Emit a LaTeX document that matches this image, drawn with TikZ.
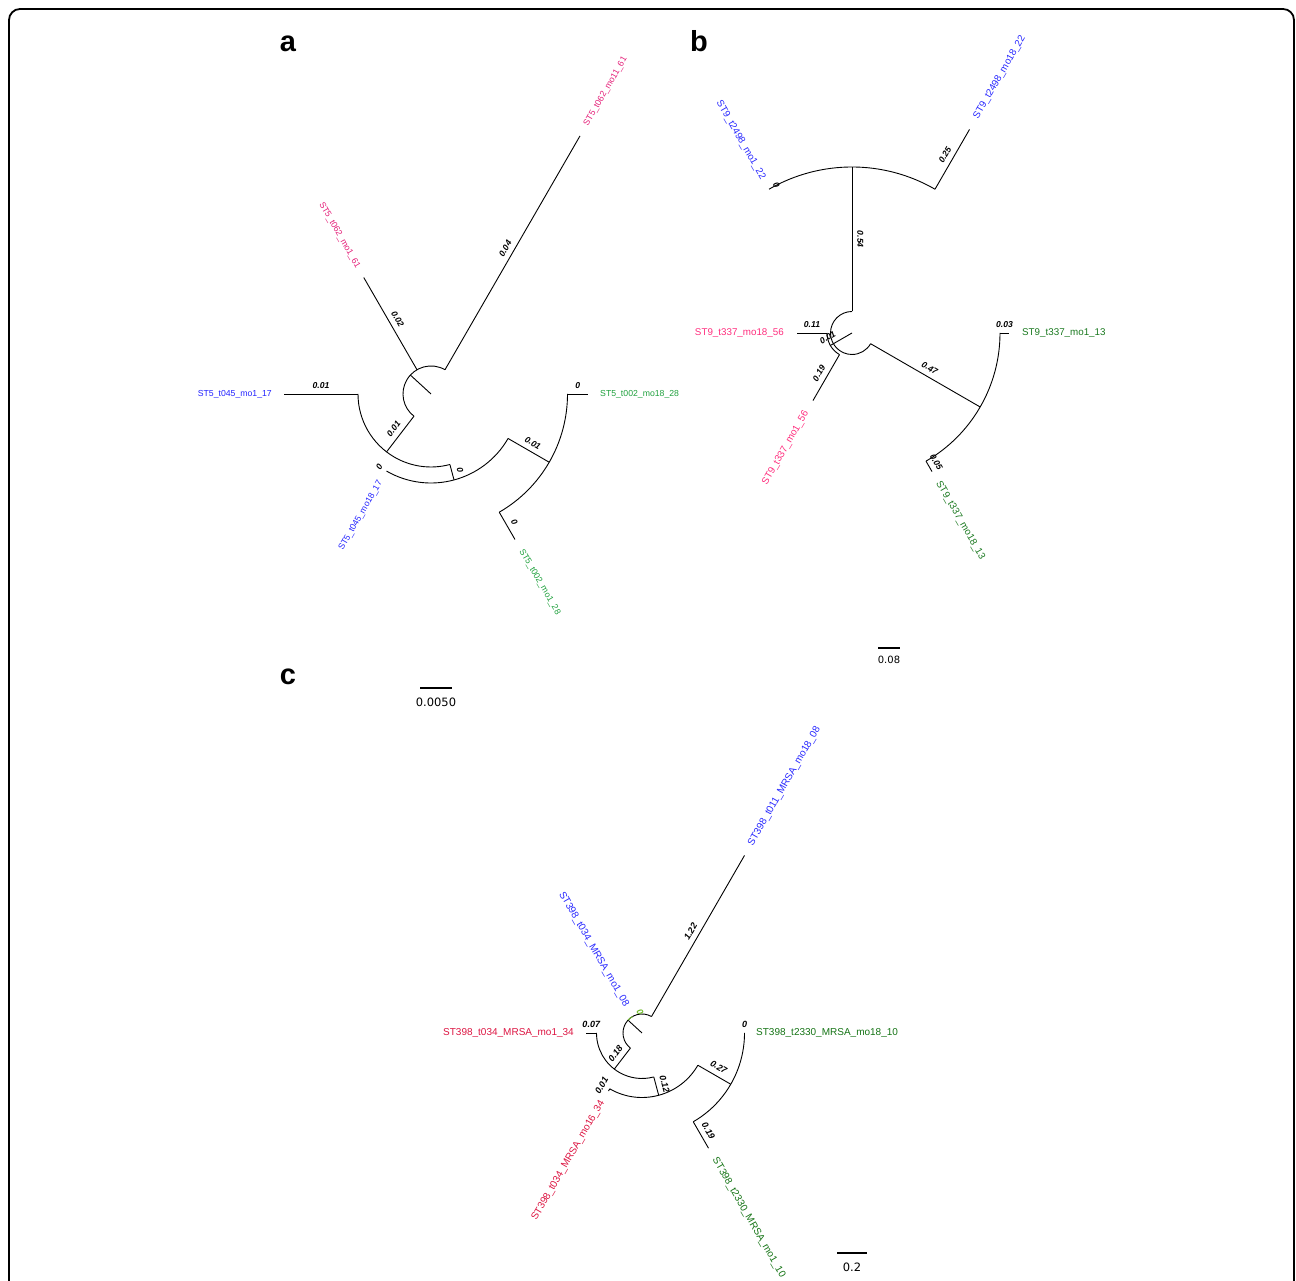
\documentclass[tikz,border=0pt]{standalone}
\usepackage{fontspec}
\setmainfont{Liberation Sans}
\newfontfamily\scalebarfont{DejaVu Sans}

\definecolor{aPink}{RGB}{228,30,120}
\definecolor{aBlue}{RGB}{35,35,255}
\definecolor{aGreen}{RGB}{30,160,60}
\definecolor{bBlue}{RGB}{40,40,255}
\definecolor{bPink}{RGB}{255,45,125}
\definecolor{bGreen}{RGB}{25,120,30}
\definecolor{cBlue}{RGB}{40,40,255}
\definecolor{cRed}{RGB}{220,20,65}
\definecolor{cGreen}{RGB}{20,115,20}
\definecolor{cLime}{RGB}{110,185,40}

\tikzset{
  branch/.style={line width=0.9pt, black},
  leafa/.style={font=\fontsize{8.7}{10}\selectfont, inner sep=0pt},
  leafb/.style={font=\fontsize{9.8}{11}\selectfont, inner sep=0pt},
  leafc/.style={font=\fontsize{10}{12}\selectfont, inner sep=0pt},
  lenlab/.style={font=\fontsize{8.6}{10}\selectfont\bfseries\itshape, inner xsep=0pt, inner ysep=5.2pt},
  lenlabc/.style={font=\fontsize{9}{10}\selectfont\bfseries\itshape, inner xsep=0pt, inner ysep=5.4pt},
  scalebar/.style={line width=1.1pt, black},
  scaletext/.style={font=\scalebarfont\fontsize{11.5}{13}\selectfont, inner sep=0pt},
  panel/.style={font=\fontsize{29}{32}\selectfont\bfseries, inner sep=0pt, anchor=base}
}

% radial branch between two named points: name, angle, inner radius, outer radius
\newcommand\fanbranch[4]{%
  \coordinate (#1s) at (#2:#3pt);
  \coordinate (#1e) at (#2:#4pt);
  \draw[branch] (#1s) -- (#1e);}

% arc of an internal node: [style] start angle, end angle, radius
\newcommand\fanarc[4][]{%
  \draw[branch,#1] (#2:#4pt) arc[start angle=#2, end angle=#3, radius=#4pt];}

% tip label: name, angle, radius, style, text
\newcommand\tiplabel[5]{%
  \pgfmathtruncatemacro\tipright{cos(#2)>0.001}%
  \ifnum\tipright=1
    \node[#4,anchor=west,rotate=#2] (#1) at (#2:#3pt) {#5};%
  \else
    \pgfmathsetmacro\tiprot{#2-180}%
    \node[#4,anchor=east,rotate=\tiprot] (#1) at (#2:#3pt) {#5};%
  \fi}

% branch length label: name, angle, inner radius, outer radius, style, text
\newcommand\lenlabel[6]{%
  \pgfmathsetmacro\lenmid{(#3+#4)/2}%
  \pgfmathtruncatemacro\lenright{cos(#2)>0.001}%
  \ifnum\lenright=1
    \pgfmathsetmacro\lenrot{#2}%
  \else
    \pgfmathsetmacro\lenrot{#2-180}%
  \fi
  \node[#5,anchor=south,rotate=\lenrot] (#1) at (#2:\lenmid pt) {#6};}

\begin{document}
\begin{tikzpicture}[x=1pt,y=1pt]
\useasboundingbox (0,0) rectangle (1296,1281);
\clip (0,0) rectangle (1296,1281);

% outer frame
\draw[line width=1.8pt, rounded corners=11pt] (9,-30) rectangle (1294,1272);

% panel letters
\node[panel] (pa) at (288,1229) {a};
\node[panel] (pb) at (699,1229) {b};
\node[panel] (pc) at (288,596) {c};

% ---------------- tree a ----------------
\begin{scope}[shift={(431,887)}]
  \fanbranch{a-re}{137.5}{0}{28}
  \fanarc{60}{232.5}{28}
  \fanbranch{a-l1}{60}{28}{298}
  \lenlabel{a-l1-len}{60}{28}{298}{lenlab}{0.04}
  \tiplabel{a-l1-tip}{60}{310}{leafa,aPink}{ST5\_t062\_mo11\_61}
  \fanbranch{a-l2}{120}{28}{134.5}
  \lenlabel{a-l2-len}{120}{28}{134.5}{lenlab}{0.02}
  \tiplabel{a-l2-tip}{120}{146}{leafa,aPink}{ST5\_t062\_mo1\_61}
  \fanbranch{a-x}{232.5}{28}{73}
  \lenlabel{a-x-len}{232.5}{28}{73}{lenlab}{0.01}
  \fanarc{180}{285}{73}
  \fanbranch{a-l3}{180}{73}{147}
  \lenlabel{a-l3-len}{180}{73}{147}{lenlab}{0.01}
  \tiplabel{a-l3-tip}{180}{159}{leafa,aBlue}{ST5\_t045\_mo1\_17}
  \fanbranch{a-y}{285}{73}{89}
  \lenlabel{a-y-len}{285}{73}{89}{lenlab}{0}
  \fanarc{240}{330}{89}
  \coordinate (a-l4e) at (240:89pt);
  \lenlabel{a-l4-len}{240}{89}{89}{lenlab}{0}
  \tiplabel{a-l4-tip}{240}{101}{leafa,aBlue}{ST5\_t045\_mo18\_17}
  \fanbranch{a-z}{330}{89}{136.5}
  \lenlabel{a-z-len}{330}{89}{136.5}{lenlab}{0.01}
  \fanarc{300}{360}{136.5}
  \fanbranch{a-l5}{0}{136.5}{157}
  \lenlabel{a-l5-len}{0}{136.5}{157}{lenlab}{0}
  \tiplabel{a-l5-tip}{0}{169}{leafa,aGreen}{ST5\_t002\_mo18\_28}
  \fanbranch{a-l6}{300}{136.5}{168}
  \lenlabel{a-l6-len}{300}{136.5}{168}{lenlab}{0}
  \tiplabel{a-l6-tip}{300}{180}{leafa,aGreen}{ST5\_t002\_mo1\_28}
\end{scope}

% ---------------- tree b ----------------
\begin{scope}[shift={(852,948)}]
  \fanbranch{b-re}{210}{0}{21.5}
  \fanarc{90}{330}{21.5}
  \fanbranch{b-t}{90}{21.5}{166}
  \lenlabel{b-t-len}{90}{21.5}{166}{lenlab}{0.54}
  \fanarc{60}{120}{166}
  \fanbranch{b-l1}{60}{166}{235}
  \lenlabel{b-l1-len}{60}{166}{235}{lenlab}{0.25}
  \tiplabel{b-l1-tip}{60}{248}{leafb,bBlue}{ST9\_t2498\_mo18\_22}
  \coordinate (b-l2e) at (120:166pt);
  \lenlabel{b-l2-len}{120}{166}{166}{lenlab}{0}
  \tiplabel{b-l2-tip}{120}{178}{leafb,bBlue}{ST9\_t2498\_mo1\_22}
  \fanbranch{b-p}{210}{21.5}{25}
  \lenlabel{b-p-len}{210}{21.5}{25}{lenlab}{0.01}
  \fanarc{180}{240}{25}
  \fanbranch{b-l3}{180}{25}{55}
  \lenlabel{b-l3-len}{180}{25}{55}{lenlab}{0.11}
  \tiplabel{b-l3-tip}{180}{68}{leafb,bPink}{ST9\_t337\_mo18\_56}
  \fanbranch{b-l4}{240}{25}{78}
  \lenlabel{b-l4-len}{240}{25}{78}{lenlab}{0.19}
  \tiplabel{b-l4-tip}{240}{91}{leafb,bPink}{ST9\_t337\_mo1\_56}
  \fanbranch{b-g}{330}{21.5}{148}
  \lenlabel{b-g-len}{330}{21.5}{148}{lenlab}{0.47}
  \fanarc{300}{360}{148}
  \fanbranch{b-l5}{0}{148}{157}
  \lenlabel{b-l5-len}{0}{148}{157}{lenlab}{0.03}
  \tiplabel{b-l5-tip}{0}{170}{leafb,bGreen}{ST9\_t337\_mo1\_13}
  \fanbranch{b-l6}{300}{148}{160}
  \lenlabel{b-l6-len}{300}{148}{160}{lenlab}{0.05}
  \tiplabel{b-l6-tip}{300}{172}{leafb,bGreen}{ST9\_t337\_mo18\_13}
\end{scope}

% ---------------- tree c ----------------
\begin{scope}[shift={(642,248)}]
  \fanbranch{c-re}{137.5}{0}{19}
  \fanarc{60}{232.5}{19}
  \fanarc[cLime]{120}{137.5}{19}
  \fanbranch{c-l1}{60}{19}{205}
  \lenlabel{c-l1-len}{60}{19}{205}{lenlabc}{1.22}
  \tiplabel{c-l1-tip}{60}{217}{leafc,cBlue}{ST398\_t011\_MRSA\_mo18\_08}
  \coordinate (c-l2e) at (120:19pt);
  \lenlabel{c-l2-len}{120}{19}{19}{lenlabc,cLime}{0}
  \tiplabel{c-l2-tip}{120}{31}{leafc,cBlue}{ST398\_t034\_MRSA\_mo1\_08}
  \fanbranch{c-p}{232.5}{19}{45.5}
  \lenlabel{c-p-len}{232.5}{19}{45.5}{lenlabc}{0.18}
  \fanarc{180}{285}{45.5}
  \fanbranch{c-l3}{180}{45.5}{56}
  \lenlabel{c-l3-len}{180}{45.5}{56}{lenlabc}{0.07}
  \tiplabel{c-l3-tip}{180}{68}{leafc,cRed}{ST398\_t034\_MRSA\_mo1\_34}
  \fanbranch{c-q}{285}{45.5}{64.5}
  \lenlabel{c-q-len}{285}{45.5}{64.5}{lenlabc}{0.12}
  \fanarc{240}{330}{64.5}
  \fanbranch{c-l4}{240}{64.5}{67}
  \lenlabel{c-l4-len}{240}{64.5}{67}{lenlabc}{0.01}
  \tiplabel{c-l4-tip}{240}{79}{leafc,cRed}{ST398\_t034\_MRSA\_mo16\_34}
  \fanbranch{c-r}{330}{64.5}{102.5}
  \lenlabel{c-r-len}{330}{64.5}{102.5}{lenlabc}{0.27}
  \fanarc{300}{360}{102.5}
  \coordinate (c-l5e) at (0:102.5pt);
  \lenlabel{c-l5-len}{0}{102.5}{102.5}{lenlabc}{0}
  \tiplabel{c-l5-tip}{0}{114}{leafc,cGreen}{ST398\_t2330\_MRSA\_mo18\_10}
  \fanbranch{c-l6}{300}{102.5}{133}
  \lenlabel{c-l6-len}{300}{102.5}{133}{lenlabc}{0.19}
  \tiplabel{c-l6-tip}{300}{145}{leafc,cGreen}{ST398\_t2330\_MRSA\_mo1\_10}
\end{scope}

% scale bars
\coordinate (sa1) at (420,593);
\coordinate (sa2) at (452,593);
\draw[scalebar] (sa1) -- (sa2);
\node[scaletext] (sa-t) at (436,579) {0.0050};

\coordinate (sb1) at (878,633);
\coordinate (sb2) at (900,633);
\draw[scalebar] (sb1) -- (sb2);
\node[scaletext,font=\scalebarfont\fontsize{10}{12}\selectfont] (sb-t) at (889,621) {0.08};

\coordinate (sc1) at (837,28);
\coordinate (sc2) at (867,28);
\draw[scalebar] (sc1) -- (sc2);
\node[scaletext] (sc-t) at (852,14) {0.2};
\end{tikzpicture}
\end{document}
